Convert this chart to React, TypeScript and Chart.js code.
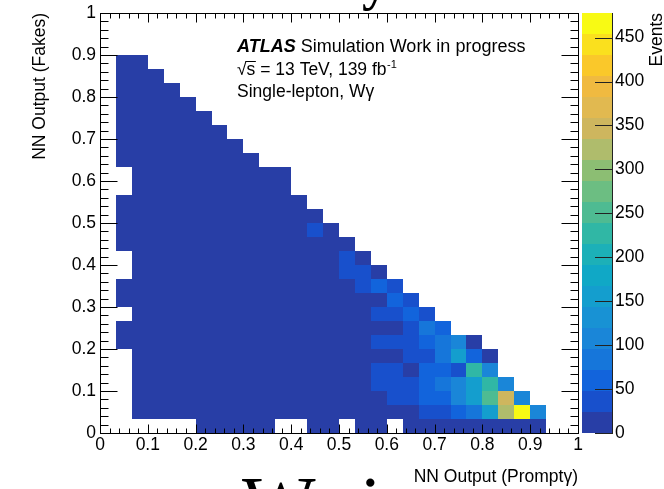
import { useEffect, useRef } from "react";
import { Chart, registerables } from "chart.js";

Chart.register(...registerables);

const FONT = '"Liberation Sans", Arial, Helvetica, sans-serif';
const SERIF = '"Liberation Serif", "DejaVu Serif", serif';

const N_BINS = 30;
const Z_MAX = 478;
const N_LEVELS = 20;

const axisTicks = [0, 0.1, 0.2, 0.3, 0.4, 0.5, 0.6, 0.7, 0.8, 0.9, 1];
const axisTickLabels = ["0", "0.1", "0.2", "0.3", "0.4", "0.5", "0.6", "0.7", "0.8", "0.9", "1"];
const colorTicks = [0, 50, 100, 150, 200, 250, 300, 350, 400, 450];
const colorTickLabels = ["0", "50", "100", "150", "200", "250", "300", "350", "400", "450"];

const levelColors = [
  "rgb(40,62,166)", "rgb(24,80,204)", "rgb(18,100,220)", "rgb(22,118,218)",
  "rgb(26,134,216)", "rgb(24,146,212)", "rgb(20,158,206)", "rgb(16,168,198)",
  "rgb(28,176,184)", "rgb(48,183,165)", "rgb(78,187,146)", "rgb(108,190,130)",
  "rgb(140,190,115)", "rgb(175,188,108)", "rgb(206,182,94)", "rgb(225,185,80)",
  "rgb(240,186,64)", "rgb(250,200,42)", "rgb(250,224,30)", "rgb(248,250,20)",
];

// Events per bin. One array per y bin (bottom to top), one entry per x bin (left to right).
// 0 or missing = empty bin.
const row00 = [0, 0, 0, 0, 0, 0, 3, 4, 4, 5, 5, 0, 0, 6, 6, 0, 7, 7, 0, 9, 10, 11, 12, 14, 15, 16, 18, 14];
const row01 = [0, 0, 8, 8, 9, 9, 10, 10, 11, 11, 12, 12, 13, 14, 15, 16, 17, 18, 19, 21, 38, 44, 62, 86, 160, 326, 468, 110];
const row02 = [0, 0, 7, 8, 8, 9, 9, 10, 10, 11, 11, 12, 12, 13, 14, 15, 16, 18, 30, 34, 58, 66, 112, 158, 250, 352, 104];
const row03 = [0, 0, 7, 7, 8, 8, 9, 9, 10, 10, 11, 11, 12, 13, 14, 15, 17, 28, 30, 34, 56, 80, 106, 154, 226, 108];
const row04 = [0, 0, 6, 7, 7, 8, 8, 9, 9, 10, 10, 11, 11, 12, 13, 14, 16, 26, 30, 22, 54, 58, 40, 220, 104];
const row05 = [0, 0, 6, 6, 7, 7, 8, 8, 9, 9, 10, 10, 11, 11, 12, 13, 14, 16, 18, 28, 36, 82, 158, 60, 20];
const row06 = [0, 3, 6, 6, 7, 7, 8, 8, 9, 9, 10, 10, 11, 11, 12, 13, 15, 26, 28, 32, 56, 78, 104, 18];
const row07 = [0, 3, 5, 6, 6, 7, 7, 8, 8, 9, 9, 10, 10, 11, 12, 13, 14, 16, 20, 30, 80, 62];
const row08 = [0, 0, 5, 6, 6, 7, 7, 8, 8, 9, 9, 10, 10, 11, 12, 13, 16, 26, 32, 56, 38];
const row09 = [0, 3, 5, 5, 6, 6, 7, 7, 8, 8, 9, 9, 10, 10, 11, 12, 14, 18, 52, 30];
const row10 = [0, 2, 5, 5, 6, 6, 7, 7, 8, 8, 9, 9, 10, 10, 11, 14, 26, 50, 34];
const row11 = [0, 0, 4, 5, 5, 6, 6, 7, 7, 8, 8, 9, 9, 10, 12, 26, 28, 20];
const row12 = [0, 0, 4, 5, 5, 6, 6, 7, 7, 8, 8, 9, 9, 10, 12, 25, 18];
const row13 = [0, 2, 4, 4, 5, 5, 6, 6, 7, 7, 8, 8, 9, 10, 12, 16];
const row14 = [0, 2, 4, 4, 5, 5, 6, 6, 7, 7, 8, 8, 9, 28, 14];
const row15 = [0, 2, 4, 4, 4, 5, 5, 6, 6, 7, 7, 8, 9, 12];
const row16 = [0, 2, 3, 4, 4, 5, 5, 6, 6, 7, 7, 8, 10];
const row17 = [0, 0, 3, 4, 4, 4, 5, 5, 6, 6, 7, 8];
const row18 = [0, 0, 3, 3, 4, 4, 5, 5, 6, 6, 7, 7];
const row19 = [0, 2, 3, 3, 4, 4, 4, 5, 5, 6];
const row20 = [0, 2, 3, 3, 3, 4, 4, 5, 5];
const row21 = [0, 2, 2, 3, 3, 4, 4, 4];
const row22 = [0, 2, 2, 3, 3, 3, 4];
const row23 = [0, 1, 2, 2, 3, 3];
const row24 = [0, 1, 2, 2, 3];
const row25 = [0, 1, 1, 2];
const row26 = [0, 1, 1];

const eventRows = [
  row00, row01, row02, row03, row04, row05, row06, row07, row08, row09,
  row10, row11, row12, row13, row14, row15, row16, row17, row18, row19,
  row20, row21, row22, row23, row24, row25, row26,
];

type Cell = { x: number; y: number; v: number; x0: number; x1: number; y0: number; y1: number };

function buildCells(): Cell[] {
  const cells: Cell[] = [];
  eventRows.forEach((row, j) => {
    row.forEach((v, i) => {
      if (v > 0) {
        cells.push({
          x: (i + 0.5) / N_BINS, y: (j + 0.5) / N_BINS, v,
          x0: i / N_BINS, x1: (i + 1) / N_BINS, y0: j / N_BINS, y1: (j + 1) / N_BINS,
        });
      }
    });
  });
  return cells;
}

function levelColor(v: number) {
  const k = Math.min(N_LEVELS - 1, Math.floor(v / (Z_MAX / N_LEVELS)));
  return levelColors[k];
}

const heatmapPlugin = {
  id: "heatmap",
  beforeDatasetsDraw(chart: any) {
    const { ctx, scales } = chart;
    const xs = scales.x, ys = scales.y;
    const data = chart.data.datasets[0].data as Cell[];
    ctx.save();
    for (const c of data) {
      const x0 = Math.round(xs.getPixelForValue(c.x0));
      const x1 = Math.round(xs.getPixelForValue(c.x1));
      const yb = Math.round(ys.getPixelForValue(c.y0));
      const yt = Math.round(ys.getPixelForValue(c.y1));
      ctx.fillStyle = levelColor(c.v);
      ctx.fillRect(x0, yt, x1 - x0, yb - yt);
    }
    ctx.restore();
  },
};

const decorPlugin = {
  id: "decor",
  afterDraw(chart: any) {
    const { ctx, chartArea, scales } = chart;
    const xs = scales.x, ys = scales.y, zs = scales.z;
    const L = Math.round(chartArea.left), R = Math.round(chartArea.right);
    const T = Math.round(chartArea.top), B = Math.round(chartArea.bottom);
    ctx.save();

    // colour bar
    const barL = R + 4, barR = R + 34;
    for (let k = 0; k < N_LEVELS; k++) {
      const yb = Math.round(zs.getPixelForValue((k * Z_MAX) / N_LEVELS));
      const yt = Math.round(zs.getPixelForValue(((k + 1) * Z_MAX) / N_LEVELS));
      ctx.fillStyle = levelColors[k];
      ctx.fillRect(barL, yt, barR - barL, yb - yt);
    }
    ctx.strokeStyle = "#222";
    ctx.lineWidth = 1;
    ctx.beginPath();
    ctx.moveTo(barR + 0.5, T);
    ctx.lineTo(barR + 0.5, B + 1);
    for (const t of colorTicks) {
      const y = Math.round(zs.getPixelForValue(t)) + 0.5;
      ctx.moveTo(barR - 17, y);
      ctx.lineTo(barR + 0.5, y);
    }
    ctx.stroke();

    // frame
    ctx.strokeStyle = "#000";
    ctx.lineWidth = 1;
    ctx.strokeRect(L + 0.5, T + 0.5, R - L, B - T);

    // inward ticks on all four sides
    const minorPerMajor = 5;
    const nMinor = (axisTicks.length - 1) * minorPerMajor;
    ctx.beginPath();
    for (let k = 0; k <= nMinor; k++) {
      const v = k / nMinor;
      const major = k % minorPerMajor === 0;
      const x = Math.round(xs.getPixelForValue(v)) + 0.5;
      const y = Math.round(ys.getPixelForValue(v)) + 0.5;
      const hx = major ? 9 : 5;
      const hy = major ? 17 : 8;
      ctx.moveTo(x, B + 0.5);
      ctx.lineTo(x, B + 0.5 - hx);
      ctx.moveTo(x, T + 0.5);
      ctx.lineTo(x, T + 0.5 + hx);
      ctx.moveTo(L + 0.5, y);
      ctx.lineTo(L + 0.5 + hy, y);
      ctx.moveTo(R + 0.5, y);
      ctx.lineTo(R + 0.5 - hy, y);
    }
    ctx.stroke();

    // axis titles
    ctx.fillStyle = "#000";
    ctx.font = `17.5px ${FONT}`;
    ctx.textAlign = "right";
    ctx.textBaseline = "alphabetic";
    ctx.fillText("NN Output (Promptγ)", R, 482);

    ctx.save();
    ctx.translate(45, T);
    ctx.rotate(-Math.PI / 2);
    ctx.textAlign = "right";
    ctx.fillText("NN Output (Fakes)", 0, 0);
    ctx.restore();

    ctx.save();
    ctx.translate(662, T);
    ctx.rotate(-Math.PI / 2);
    ctx.textAlign = "right";
    ctx.fillText("Events", 0, 0);
    ctx.restore();

    // ATLAS label block
    ctx.textAlign = "left";
    const tx = 237;
    ctx.font = `italic bold 18px ${FONT}`;
    ctx.fillText("ATLAS", tx, 52);
    const wA = ctx.measureText("ATLAS").width;
    ctx.font = `18px ${FONT}`;
    ctx.fillText(" Simulation Work in progress", tx + wA, 52);

    ctx.font = `17.5px ${FONT}`;
    const wRoot = ctx.measureText("√").width;
    const wS = ctx.measureText("s").width;
    ctx.fillText("√s = 13 TeV, 139 fb", tx, 75);
    const wLine = ctx.measureText("√s = 13 TeV, 139 fb").width;
    ctx.beginPath();
    ctx.lineWidth = 1;
    ctx.moveTo(tx + wRoot - 1, 61.5);
    ctx.lineTo(tx + wRoot + wS + 0.5, 61.5);
    ctx.stroke();
    ctx.font = `11px ${FONT}`;
    ctx.fillText("-1", tx + wLine + 0.5, 68);

    ctx.font = `17.5px ${FONT}`;
    ctx.fillText("Single-lepton, Wγ", tx, 97);

    // cropped fragments of the surrounding page
    ctx.font = `bold 52px ${SERIF}`;
    ctx.fillText("y", 362, 0);
    ctx.font = `78px ${SERIF}`;
    ctx.fillText("W", 242, 530);
    ctx.fillText("i", 360, 530);

    ctx.restore();
  },
};

export default function App() {
  const ref = useRef<HTMLCanvasElement>(null);
  useEffect(() => {
    const canvas = ref.current;
    if (!canvas) return;
    const cells = buildCells();
    const tickFont = { family: FONT, size: 17.5 };
    const zeroPad = (s: any) => {
      s.paddingTop = 0;
      s.paddingBottom = 0;
      s.paddingLeft = 0;
      s.paddingRight = 0;
    };
    const chart = new Chart(canvas, {
      type: "scatter",
      data: {
        datasets: [
          { label: "Events", data: cells as any, pointRadius: 0, pointHoverRadius: 0, showLine: false },
        ],
      },
      options: {
        responsive: false,
        animation: false,
        devicePixelRatio: 1,
        events: [],
        layout: { autoPadding: false, padding: { top: 13, left: 0, right: 0, bottom: 0 } },
        plugins: { legend: { display: false }, tooltip: { enabled: false } },
        scales: {
          x: {
            type: "linear",
            position: "bottom",
            min: 0,
            max: 1,
            grid: { display: false, drawTicks: false },
            border: { display: false },
            afterBuildTicks: (s: any) => {
              s.ticks = axisTicks.map((value) => ({ value }));
            },
            afterFit: (s: any) => {
              s.height = 56;
              zeroPad(s);
            },
            ticks: {
              autoSkip: false,
              maxRotation: 0,
              padding: 2,
              color: "#000",
              font: tickFont,
              callback: (_v: any, i: number) => axisTickLabels[i],
            },
          },
          y: {
            type: "linear",
            position: "left",
            min: 0,
            max: 1,
            grid: { display: false, drawTicks: false },
            border: { display: false },
            afterBuildTicks: (s: any) => {
              s.ticks = axisTicks.map((value) => ({ value }));
            },
            afterFit: (s: any) => {
              s.width = 100;
              zeroPad(s);
            },
            ticks: {
              autoSkip: false,
              padding: 4,
              color: "#000",
              font: tickFont,
              callback: (_v: any, i: number) => axisTickLabels[i],
            },
          },
          z: {
            type: "linear",
            position: "right",
            min: 0,
            max: Z_MAX,
            grid: { display: false, drawTicks: false },
            border: { display: false },
            afterBuildTicks: (s: any) => {
              s.ticks = colorTicks.map((value) => ({ value }));
            },
            afterFit: (s: any) => {
              s.width = 86;
              zeroPad(s);
            },
            ticks: {
              autoSkip: false,
              padding: 37,
              color: "#000",
              font: tickFont,
              callback: (_v: any, i: number) => colorTickLabels[i],
            },
          },
        },
      } as any,
      plugins: [heatmapPlugin, decorPlugin],
    });
    return () => chart.destroy();
  }, []);

  return (
    <div style={{ position: "absolute", left: 0, top: 0, width: 664, height: 489, background: "#fff" }}>
      <canvas ref={ref} width={664} height={489} style={{ width: 664, height: 489, display: "block" }} />
    </div>
  );
}
